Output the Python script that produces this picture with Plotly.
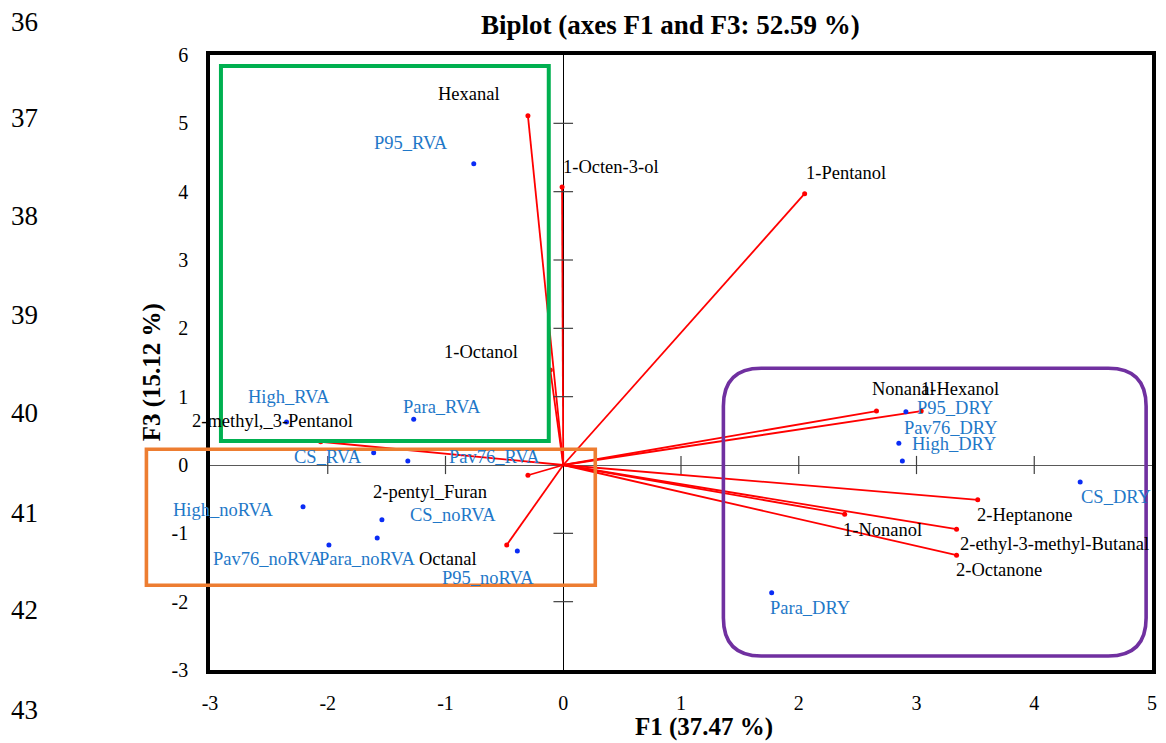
import plotly.graph_objects as go

# ---- Variables (loading vectors) on F1 / F3 ----
var_names = ["Hexanal", "1-Octen-3-ol", "1-Pentanol", "1-Octanol", "2-methyl,_3-Pentanol",
             "2-pentyl_Furan", "Octanal", "Nonanal", "1-Hexanol", "2-Heptanone",
             "1-Nonanol", "2-ethyl-3-methyl-Butanal", "2-Octanone"]
var_f1 = [-0.30, -0.01, 2.05, -0.11, -2.06, -0.30, -0.48, 2.66, 3.04, 3.52, 2.39, 3.34, 3.34]
var_f3 = [5.11, 4.07, 3.97, 1.39, 0.34, -0.15, -1.17, 0.79, 0.79, -0.51, -0.72, -0.94, -1.32]

# ---- Observations ----
obs_names = ["P95_RVA", "High_RVA", "Para_RVA", "CS_RVA", "Pav76_RVA",
             "High_noRVA", "CS_noRVA", "Para_noRVA", "Pav76_noRVA", "P95_noRVA",
             "P95_DRY", "Pav76_DRY", "High_DRY", "CS_DRY", "Para_DRY"]
obs_f1 = [-0.76, -2.35, -1.27, -1.61, -1.32, -2.21, -1.54, -1.58, -1.99, -0.39,
          2.91, 2.85, 2.88, 4.39, 1.77]
obs_f3 = [4.41, 0.63, 0.67, 0.18, 0.06, -0.61, -0.80, -1.07, -1.17, -1.26,
          0.78, 0.32, 0.06, -0.25, -1.87]

# label offsets in screen pixels (dx right, dy down) from each mark
var_label_off = [(-59, -22), (49, -20), (41, -21), (-69, -18), (-48, -21),
                 (-98, 17), (-59, 14), (27, -22), (39, -22), (47, 15),
                 (38, 16), (98, 15), (42, 15)]
obs_label_off = [(-63, -21), (2, -25), (28, -12), (-46, 4), (87, -4),
                 (-80, 3), (71, -5), (-10, 21), (-61, 14), (-29, 27),
                 (49, -4), (52, -15), (52, -17), (36, 15), (38, 15)]

x_ticks = [-3, -2, -1, 0, 1, 2, 3, 4, 5]
y_ticks = [-3, -2, -1, 0, 1, 2, 3, 4, 5, 6]
line_numbers = ["36", "37", "38", "39", "40", "41", "42", "43"]
line_number_py = [22, 118, 216, 315, 413, 513, 610, 710]

XR = (-3, 5)
YR = (-3, 6)
W, H = 1166, 743
ML, MR, MT, MB = 210, 9, 55, 73
PW, PH = W - ML - MR, H - MT - MB

SERIF = "Liberation Serif"
RED = "#ff0000"
BLUE_DOT = "#0a2cf5"
BLUE_TXT = "#1f78c8"


def px(x):
    return (x - XR[0]) / (XR[1] - XR[0])


def py(y):
    return (y - YR[0]) / (YR[1] - YR[0])


fig = go.Figure()

# loading vectors from origin
vx, vy = [], []
for a, b in zip(var_f1, var_f3):
    vx += [0, a, None]
    vy += [0, b, None]
fig.add_trace(go.Scatter(x=vx, y=vy, mode="lines", line=dict(color=RED, width=1.8),
                         hoverinfo="skip", showlegend=False))
fig.add_trace(go.Scatter(x=var_f1, y=var_f3, mode="markers", text=var_names,
                         marker=dict(color=RED, size=5), showlegend=False))

# observations
fig.add_trace(go.Scatter(x=obs_f1, y=obs_f3, mode="markers", text=obs_names,
                         marker=dict(color=BLUE_DOT, size=5), showlegend=False))

# tick marks on the axes crossing at the origin
xt_in = [t for t in x_ticks if t not in (XR[0], 0, XR[1])]
yt_in = [t for t in y_ticks if t not in (YR[0], 0, YR[1])]
fig.add_trace(go.Scatter(x=xt_in, y=[0] * len(xt_in), mode="markers", hoverinfo="skip",
                         marker=dict(symbol="line-ns", size=13,
                                     line=dict(color="#404040", width=1.2)),
                         showlegend=False))
fig.add_trace(go.Scatter(x=[0] * len(yt_in), y=yt_in, mode="markers", hoverinfo="skip",
                         marker=dict(symbol="line-ew", size=14,
                                     line=dict(color="#404040", width=1.2)),
                         showlegend=False))

annotations = []
for n, a, b, (dx, dy) in zip(var_names, var_f1, var_f3, var_label_off):
    annotations.append(dict(x=a, y=b, xref="x", yref="y", text=n, showarrow=False,
                            xshift=dx, yshift=-dy, xanchor="center", yanchor="middle",
                            font=dict(family=SERIF, size=18.5, color="black")))
for n, a, b, (dx, dy) in zip(obs_names, obs_f1, obs_f3, obs_label_off):
    annotations.append(dict(x=a, y=b, xref="x", yref="y", text=n, showarrow=False,
                            xshift=dx, yshift=-dy, xanchor="center", yanchor="middle",
                            font=dict(family=SERIF, size=18.5, color=BLUE_TXT)))

# title and axis titles
annotations.append(dict(x=(673 - ML) / PW, y=(H - MB - 25) / PH, xref="paper", yref="paper",
                        text="<b>Biplot (axes F1 and F3: 52.59 %)</b>", showarrow=False,
                        xanchor="center", yanchor="middle",
                        font=dict(family=SERIF, size=27, color="black")))
annotations.append(dict(x=(707 - ML) / PW, y=(H - MB - 727) / PH, xref="paper", yref="paper",
                        text="<b>F1 (37.47 %)</b>", showarrow=False,
                        xanchor="center", yanchor="middle",
                        font=dict(family=SERIF, size=25, color="black")))
annotations.append(dict(x=(152 - ML) / PW, y=(H - MB - 372) / PH, xref="paper", yref="paper",
                        text="<b>F3 (15.12 %)</b>", showarrow=False, textangle=-90,
                        xanchor="center", yanchor="middle",
                        font=dict(family=SERIF, size=25, color="black")))

# manuscript line numbers
for t, yy in zip(line_numbers, line_number_py):
    annotations.append(dict(x=(24 - ML) / PW, y=(H - MB - yy) / PH, xref="paper", yref="paper",
                            text=t, showarrow=False, xanchor="center", yanchor="middle",
                            font=dict(family=SERIF, size=27, color="black")))

# group outlines (data units converted to paper so they may extend past the frame)
green = dict(x0=-2.907, x1=-0.123, y0=0.35, y1=5.84)
orange = dict(x0=-3.54, x1=0.272, y0=-1.76, y1=0.23)
purple = dict(x0=1.36, x1=4.95, y0=-2.795, y1=1.415)

shapes = []
for box, col, wdt in [(green, "#00b050", 4), (orange, "#ed7d31", 3.6)]:
    shapes.append(dict(type="rect", xref="paper", yref="paper",
                       x0=px(box["x0"]), x1=px(box["x1"]), y0=py(box["y0"]), y1=py(box["y1"]),
                       line=dict(color=col, width=wdt), fillcolor="rgba(0,0,0,0)", layer="above"))

rx, ry = 38 / PW, 38 / PH
l, r, b, t = px(purple["x0"]), px(purple["x1"]), py(purple["y0"]), py(purple["y1"])
path = (f"M {l + rx},{t} L {r - rx},{t} Q {r},{t} {r},{t - ry} "
        f"L {r},{b + ry} Q {r},{b} {r - rx},{b} L {l + rx},{b} Q {l},{b} {l},{b + ry} "
        f"L {l},{t - ry} Q {l},{t} {l + rx},{t} Z")
shapes.append(dict(type="path", xref="paper", yref="paper", path=path,
                   line=dict(color="#7030a0", width=3.6), layer="above"))

fig.update_layout(
    width=W, height=H,
    margin=dict(l=ML, r=MR, t=MT, b=MB),
    paper_bgcolor="white", plot_bgcolor="white",
    showlegend=False,
    annotations=annotations,
    shapes=shapes,
    xaxis=dict(range=list(XR), tickvals=x_ticks, ticktext=[str(v) for v in x_ticks],
               showgrid=False, zeroline=True, zerolinecolor="black", zerolinewidth=1,
               showline=True, mirror=True, linecolor="black", linewidth=3.5,
               ticks="", ticklabelstandoff=12,
               tickfont=dict(family=SERIF, size=20, color="black")),
    yaxis=dict(range=list(YR), tickvals=y_ticks, ticktext=[str(v) for v in y_ticks],
               showgrid=False, zeroline=True, zerolinecolor="#595959", zerolinewidth=1,
               showline=True, mirror=True, linecolor="black", linewidth=3.5,
               ticks="", ticklabelstandoff=14,
               tickfont=dict(family=SERIF, size=20, color="black")),
)

fig.write_html("out.html")
